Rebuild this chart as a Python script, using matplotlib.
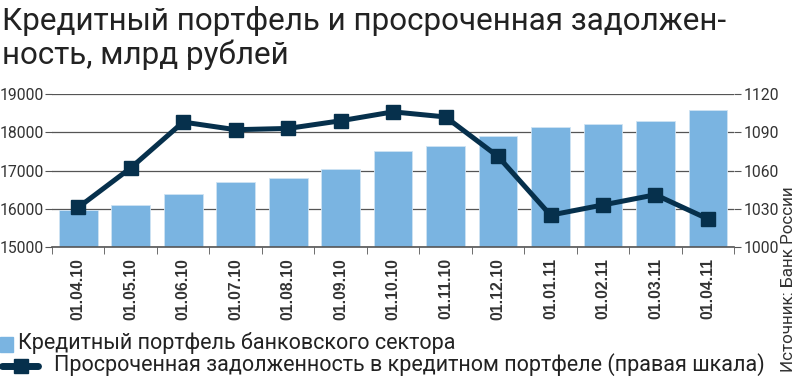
import numpy as np
import matplotlib.pyplot as plt

dates = ['01.04.10', '01.05.10', '01.06.10', '01.07.10', '01.08.10', '01.09.10',
         '01.10.10', '01.11.10', '01.12.10', '01.01.11', '01.02.11', '01.03.11', '01.04.11']
portfolio = [15960, 16100, 16390, 16700, 16810, 17050, 17500,
             17630, 17900, 18150, 18220, 18290, 18570]
overdue = [1031, 1062, 1098, 1092, 1093, 1099, 1106,
           1102, 1071, 1025, 1033, 1041, 1022]

bar_color = '#7ab4e1'
line_color = '#06304c'
text_color = '#333333'

plt.rcParams['font.family'] = ['Roboto', 'DejaVu Sans']

fig = plt.figure(figsize=(7.97, 3.76), dpi=100)
ax = fig.add_axes([0.0652, 0.343, 0.856, 0.407])
x = np.arange(len(dates))

ax.bar(x, portfolio, width=0.74, color=bar_color, edgecolor='#cfe3f3', linewidth=0.6, zorder=2)
ax.set_ylim(15000, 19000)
ax.set_xlim(-0.5, len(dates) - 0.5)
ax.set_yticks([15000, 16000, 17000, 18000, 19000])
ax.grid(axis='y', color='#555555', linewidth=0.9, zorder=0)
ax.set_axisbelow(True)
for s in ['left', 'right', 'top']:
    ax.spines[s].set_visible(False)
ax.spines['bottom'].set_color('#555555')
ax.spines['bottom'].set_linewidth(1.2)
ax.tick_params(axis='y', length=5, color='#555555', labelsize=11.3, labelcolor=text_color, pad=1)
ax.set_xticks(x)
ax.set_xticklabels(dates, rotation=90, fontsize=11.3, fontweight='bold',
                   family='Liberation Sans', color=text_color)
ax.tick_params(axis='x', length=0, pad=8)
ax.set_xticks(np.arange(-0.5, len(dates), 1.0), minor=True)
ax.tick_params(axis='x', which='minor', length=5, color='#555555')

ax2 = ax.twinx()
ax2.plot(x, overdue, color=line_color, linewidth=3.6, marker='s', markersize=9.5, zorder=3)
ax2.set_ylim(1000, 1120)
ax2.set_yticks([1000, 1030, 1060, 1090, 1120])
for s in ['left', 'right', 'top', 'bottom']:
    ax2.spines[s].set_visible(False)
ax2.tick_params(axis='y', length=5, color='#555555', labelsize=11.3, labelcolor=text_color, pad=2)

renderer = fig.canvas.get_renderer()


def fit(t, target_px, vertical=False):
    bb = t.get_window_extent(renderer)
    cur = bb.height if vertical else bb.width
    t.set_fontsize(t.get_fontsize() * target_px / cur)


t1 = fig.text(0.002, 0.985, 'Кредитный портфель и просроченная задолжен-',
              fontsize=22, va='top', ha='left', color='#222222')
fit(t1, 725)
t2 = fig.text(0.002, 0.895, 'ность, млрд рублей',
              fontsize=t1.get_fontsize(), va='top', ha='left', color='#222222')

src = fig.text(0.999, 0.01, 'Источник: Банк России', rotation=90, fontsize=11,
               va='bottom', ha='right', color=text_color)
fit(src, 186, vertical=True)

# legend drawn manually in figure coords
fig.patches.append(plt.Rectangle((0.0, 0.064), 0.0165, 0.04,
                                 transform=fig.transFigure, color=bar_color, figure=fig))
l1 = fig.text(0.022, 0.072, 'Кредитный портфель банковского сектора', fontsize=15,
              va='baseline', ha='left', color='#222222')
fit(l1, 440)
fig.lines.append(plt.Line2D([0.003, 0.048], [0.027, 0.027], transform=fig.transFigure,
                            color=line_color, linewidth=5, solid_capstyle='round', figure=fig))
fig.lines.append(plt.Line2D([0.026], [0.027], transform=fig.transFigure,
                            color=line_color, marker='s', markersize=10, figure=fig))
l2 = fig.text(0.068, 0.013, 'Просроченная задолженность в кредитном портфеле (правая шкала)',
              fontsize=l1.get_fontsize(), va='baseline', ha='left', color='#222222')

fig.savefig('out.png', dpi=100)
